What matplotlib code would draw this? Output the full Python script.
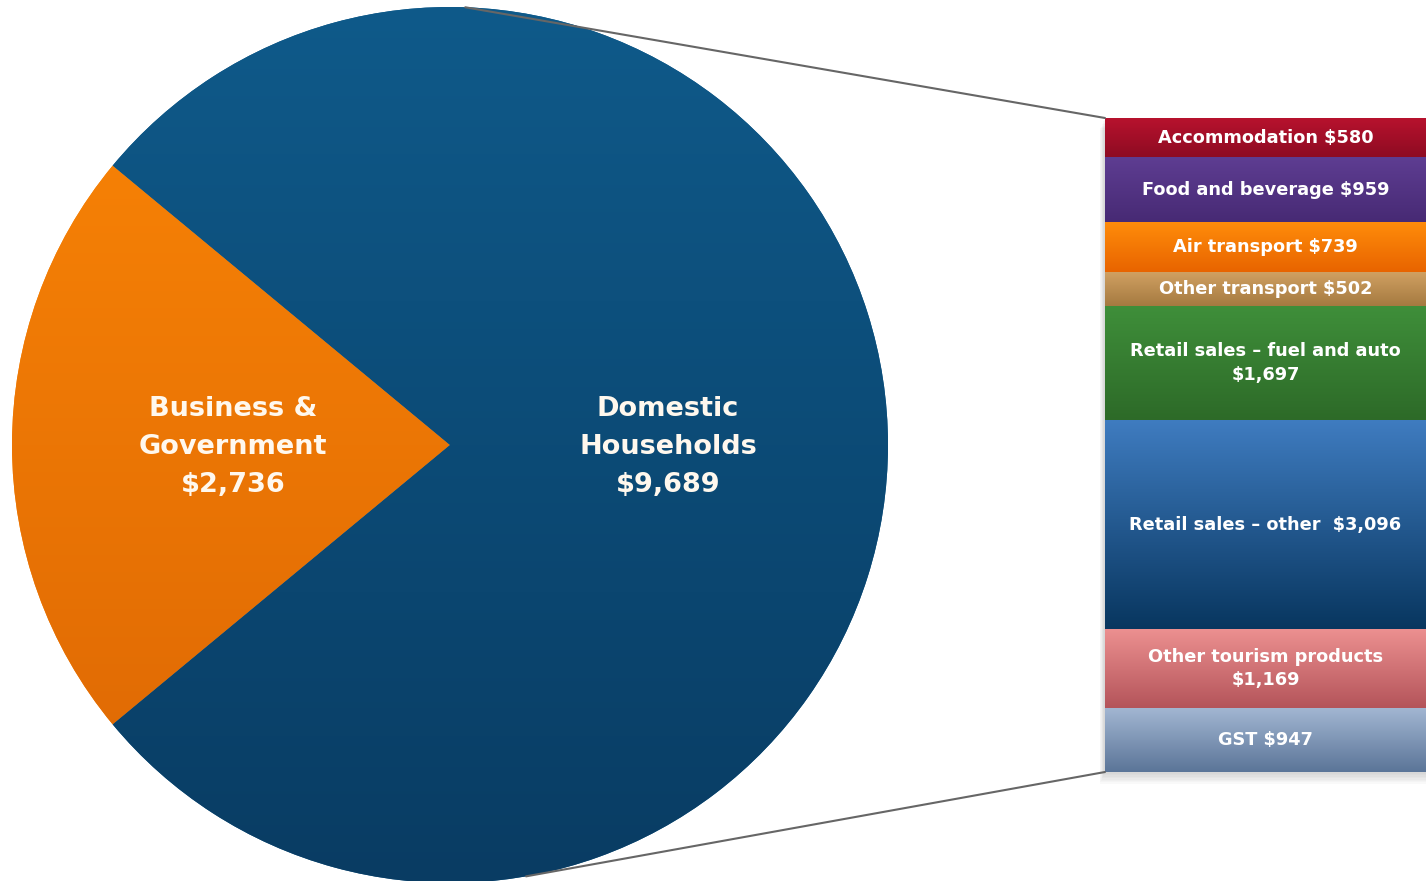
import numpy as np
import matplotlib
matplotlib.use("Agg")
import matplotlib.pyplot as plt
from matplotlib.patches import ConnectionPatch, Rectangle
from matplotlib.colors import LinearSegmentedColormap

# tourism spend split ($m)
pie_labels = ["Business &\nGovernment\n$2,736", "Domestic\nHouseholds\n$9,689"]
pie_values = [2736, 9689]

# breakdown of domestic households, top to bottom
bar_labels = ["Accommodation $580", "Food and beverage $959", "Air transport $739",
              "Other transport $502", "Retail sales \u2013 fuel and auto\n$1,697",
              "Retail sales \u2013 other  $3,096", "Other tourism products\n$1,169",
              "GST $947"]
bar_values = [580, 959, 739, 502, 1697, 3096, 1169, 947]

# (top colour, bottom colour) for each bar segment
bar_colors = [("#b8122e", "#8e0b22"), ("#5e3d92", "#472a74"), ("#ff8c0a", "#e86400"),
              ("#d0a062", "#a57a40"), ("#3f8f3a", "#2d6a28"), ("#3f7cc0", "#08365f"),
              ("#ec9090", "#b4545a"), ("#a2b6d2", "#5b7598")]
pie_colors = [("#fb8606", "#dc6604"), ("#0f5a8a", "#093c63")]

W, H = 1426, 881
fig = plt.figure(figsize=(W / 100, H / 100), dpi=100)
fig.patch.set_facecolor("white")

ax = fig.add_axes([0, 0, 1, 1])
ax.set_aspect("equal")

cx, cy, r = 450, 436, 438
start = 180 - pie_values[0] / sum(pie_values) * 180
wedges, _ = ax.pie(pie_values, startangle=start, center=(cx, cy), radius=r,
                   colors=[c[0] for c in pie_colors], frame=True)
ax.set_xlim(0, W)
ax.set_ylim(0, H)
ax.axis("off")


def gradient_fill(axis, patch, top, bottom, extent):
    cmap = LinearSegmentedColormap.from_list("g", [bottom, top])
    grad = np.linspace(0, 1, 256).reshape(-1, 1)
    im = axis.imshow(grad, cmap=cmap, extent=extent, origin="lower",
                     aspect="auto", zorder=patch.get_zorder() + 0.1)
    im.set_clip_path(patch)


for w, (top, bottom) in zip(wedges, pie_colors):
    w.set_edgecolor("none")
    gradient_fill(ax, w, top, bottom, [cx - r, cx + r, cy - r, cy + r])

for (x, y), txt in zip([(233, 434), (668, 434)], pie_labels):
    ax.text(x, y, txt, ha="center", va="center", color="#fff8ee",
            fontsize=19.5, fontweight="bold", linespacing=1.6, zorder=5)

# stacked bar for the household breakdown
x0, y0, y1 = 1105, 109, 763
bax = fig.add_axes([x0 / W, y0 / H, 1 - x0 / W, (y1 - y0) / H])
bax.set_xlim(0, 1)
bax.set_ylim(0, sum(bar_values))
bax.axis("off")

# soft shadow under the bar
for i in range(8):
    ax.add_patch(Rectangle((x0 - 1 - i * 0.6, y0 - 2 - i * 1.4), W, y1 - y0,
                           facecolor="#888888", edgecolor="none", alpha=0.045, zorder=1))

bottom = 0
for lab, val, (top, bot) in zip(bar_labels[::-1], bar_values[::-1], bar_colors[::-1]):
    rect = bax.bar(0.5, val, width=1, bottom=bottom, color=top, edgecolor="none")[0]
    gradient_fill(bax, rect, top, bot, [0, 1, bottom, bottom + val])
    bax.text(0.5, bottom + val / 2, lab, ha="center", va="center", color="white",
             fontsize=12.8, fontweight="bold", linespacing=1.4, zorder=5)
    bottom += val

# connector lines from the pie to the bar corners
for ang, yb in [(88, sum(bar_values)), (-80, 0)]:
    a = np.radians(ang)
    p = (cx + r * np.cos(a), cy + r * np.sin(a))
    con = ConnectionPatch(xyA=p, coordsA=ax.transData, xyB=(0, yb), coordsB=bax.transData,
                          color="#666666", lw=1.5, zorder=6)
    fig.add_artist(con)

fig.savefig("out.png", dpi=100, facecolor="white")
